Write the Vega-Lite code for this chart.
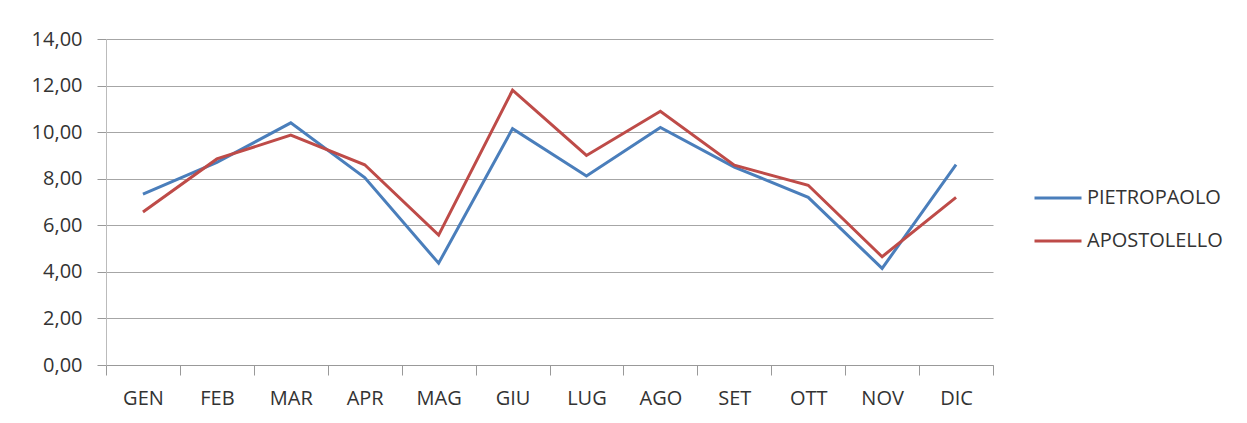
{
  "$schema": "https://vega.github.io/schema/vega-lite/v6.json",
  "width": 887,
  "height": 326,
  "autosize": {"type": "none"},
  "padding": {"left": 106, "top": 39, "right": 254, "bottom": 58},
  "background": "white",
  "config": {
    "view": {"stroke": null},
    "font": "Open Sans"
  },
  "data": {
    "values": [
      {"mese": "GEN", "serie": "PIETROPAOLO", "valore": 7.34},
      {"mese": "FEB", "serie": "PIETROPAOLO", "valore": 8.7},
      {"mese": "MAR", "serie": "PIETROPAOLO", "valore": 10.4},
      {"mese": "APR", "serie": "PIETROPAOLO", "valore": 8.05},
      {"mese": "MAG", "serie": "PIETROPAOLO", "valore": 4.37},
      {"mese": "GIU", "serie": "PIETROPAOLO", "valore": 10.15},
      {"mese": "LUG", "serie": "PIETROPAOLO", "valore": 8.12},
      {"mese": "AGO", "serie": "PIETROPAOLO", "valore": 10.2},
      {"mese": "SET", "serie": "PIETROPAOLO", "valore": 8.5},
      {"mese": "OTT", "serie": "PIETROPAOLO", "valore": 7.2},
      {"mese": "NOV", "serie": "PIETROPAOLO", "valore": 4.15},
      {"mese": "DIC", "serie": "PIETROPAOLO", "valore": 8.6},
      {"mese": "GEN", "serie": "APOSTOLELLO", "valore": 6.57},
      {"mese": "FEB", "serie": "APOSTOLELLO", "valore": 8.85},
      {"mese": "MAR", "serie": "APOSTOLELLO", "valore": 9.87},
      {"mese": "APR", "serie": "APOSTOLELLO", "valore": 8.6},
      {"mese": "MAG", "serie": "APOSTOLELLO", "valore": 5.58},
      {"mese": "GIU", "serie": "APOSTOLELLO", "valore": 11.8},
      {"mese": "LUG", "serie": "APOSTOLELLO", "valore": 9.0},
      {"mese": "AGO", "serie": "APOSTOLELLO", "valore": 10.9},
      {"mese": "SET", "serie": "APOSTOLELLO", "valore": 8.58},
      {"mese": "OTT", "serie": "APOSTOLELLO", "valore": 7.72},
      {"mese": "NOV", "serie": "APOSTOLELLO", "valore": 4.65},
      {"mese": "DIC", "serie": "APOSTOLELLO", "valore": 7.2}
    ]
  },
  "mark": {"type": "line", "strokeWidth": 3},
  "encoding": {
    "x": {
      "field": "mese",
      "type": "nominal",
      "sort": ["GEN","FEB","MAR","APR","MAG","GIU","LUG","AGO","SET","OTT","NOV","DIC"],
      "scale": {"paddingInner": 0, "paddingOuter": 0},
      "axis": {
        "title": null,
        "labelAngle": 0,
        "tickBand": "extent",
        "labelFontSize": 20,
        "labelColor": "#333333",
        "labelPadding": 13,
        "tickSize": 10,
        "tickColor": "#999999",
        "domainColor": "#999999",
        "labelFont": "Open Sans",
        "grid": false
      }
    },
    "y": {
      "field": "valore",
      "type": "quantitative",
      "scale": {"domain": [0, 14], "nice": false},
      "axis": {
        "title": null,
        "values": [0, 2, 4, 6, 8, 10, 12, 14],
        "labelExpr": "replace(format(datum.value, '.2f'), '.', ',')",
        "labelFontSize": 20,
        "labelColor": "#333333",
        "labelFont": "Open Sans",
        "tickSize": 9,
        "labelPadding": 15,
        "tickColor": "#999999",
        "domainColor": "#bbbbbb",
        "gridColor": "#a6a6a6",
        "gridWidth": 1
      }
    },
    "color": {
      "field": "serie",
      "type": "nominal",
      "scale": {"domain": ["PIETROPAOLO", "APOSTOLELLO"], "range": ["#4A7EBB", "#BE4B48"]},
      "legend": {
        "title": null,
        "orient": "none",
        "legendX": 927,
        "legendY": 134,
        "symbolType": "stroke",
        "symbolSize": 2209,
        "symbolStrokeWidth": 3,
        "labelFontSize": 20,
        "labelFont": "Open Sans",
        "labelColor": "#333333",
        "labelOffset": 4,
        "rowPadding": 8
      }
    }
  }
}
